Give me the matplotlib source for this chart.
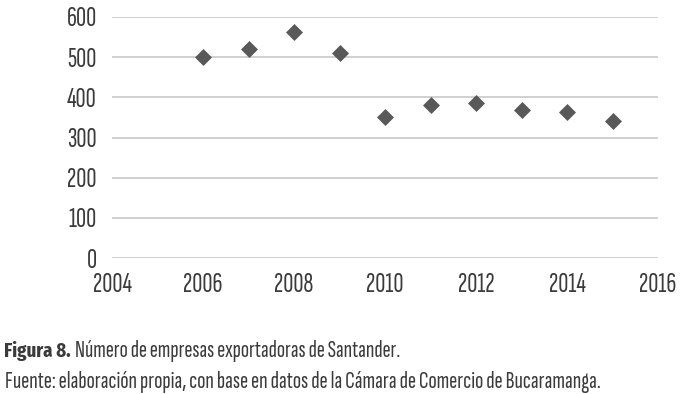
import matplotlib
matplotlib.use("Agg")
import matplotlib.pyplot as plt

years = [2006, 2007, 2008, 2009, 2010, 2011, 2012, 2013, 2014, 2015]
empresas = [500, 520, 563, 510, 350, 382, 386, 368, 364, 342]
y_ticks = [0, 100, 200, 300, 400, 500, 600]
x_ticks = [2004, 2006, 2008, 2010, 2012, 2014, 2016]

title_bold = "Figura 8."
title_rest = "Número de empresas exportadoras de Santander."
source = "Fuente: elaboración propia, con base en datos de la Cámara de Comercio de Bucaramanga."

FONT = ["Sofia Sans Extra Condensed", "DejaVu Sans"]
BOLD = ["Fira Sans Extra Condensed", "Roboto Condensed", "DejaVu Sans"]
txt = "#3b3b3b"

fig = plt.figure(figsize=(6.84, 3.94), dpi=100)
r = fig.canvas.get_renderer()

def fit_size(s, width_px, family=FONT, weight="normal"):
    t = fig.text(0, 0, s, fontsize=10, family=family, fontweight=weight)
    w = t.get_window_extent(r).width
    t.remove()
    return 10 * width_px / w

tick_fs = fit_size("2004", 39)

ax = fig.add_axes([112/684, 1-258/394, (658-112)/684, (258-17)/394])
ax.scatter(years, empresas, marker="D", s=75, color="#595959", zorder=3, linewidths=0)
ax.set_xlim(2004, 2016)
ax.set_ylim(0, 600)
ax.set_xticks(x_ticks)
ax.set_yticks(y_ticks)
ax.grid(axis="y", color="#c8c8c8", linewidth=1.2)
ax.set_axisbelow(True)
for s in ax.spines.values():
    s.set_visible(False)
ax.tick_params(length=0, labelsize=tick_fs, labelcolor=txt)
ax.tick_params(axis="x", pad=11)
ax.tick_params(axis="y", pad=11)
for lab in ax.get_xticklabels() + ax.get_yticklabels():
    lab.set_fontfamily(FONT)

fs1 = fit_size(title_bold, 67, BOLD, "bold")
t1 = fig.text(4/684, 1-351/394, title_bold, fontsize=fs1, fontweight="bold", color=txt,
              family=BOLD, va="center", ha="left")
bb = t1.get_window_extent(r)
fs2 = fit_size(title_rest, 400 - (bb.x1 + 4))
fig.text((bb.x1 + 4)/684, 1-351/394, title_rest, fontsize=fs2, color=txt,
         family=FONT, va="center", ha="left")
fs3 = fit_size(source, 593)
fig.text(5/684, 1-382/394, source, fontsize=fs3, color=txt,
         family=FONT, va="center", ha="left")

fig.savefig("out.png", dpi=100)
